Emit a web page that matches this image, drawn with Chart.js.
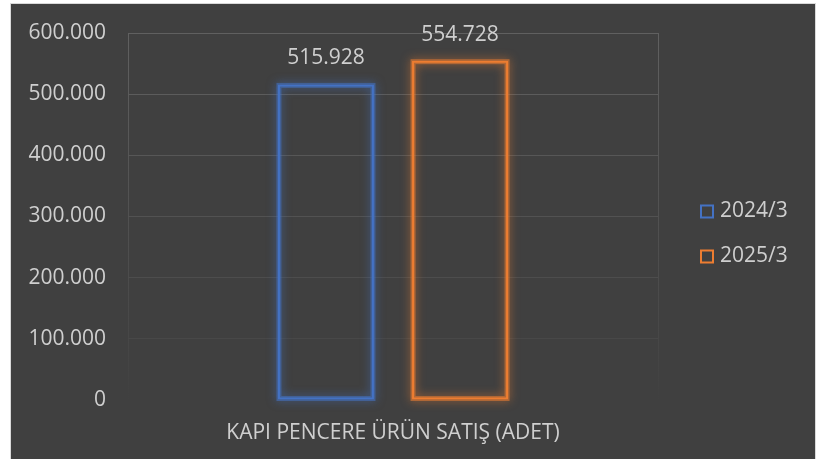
<!DOCTYPE html>
<html>
<head>
<meta charset="utf-8">
<script src="https://cdn.jsdelivr.net/npm/chart.js@4"></script>
<style>
  html, body { margin: 0; padding: 0; background: #ffffff; }
  #wrap {
    position: absolute; left: 10px; top: 3px;
    width: 804px; height: 456px;
    border: 1px solid #d9d9d9; border-bottom: none;
    background: #404040;
  }
  canvas { display: block; }
</style>
</head>
<body>
<div id="wrap"><canvas id="salesChart" width="804" height="456"></canvas></div>
<script>
// --- data ---
const CATEGORIES = ['KAPI PENCERE ÜRÜN SATIŞ (ADET)'];
const SERIES_NAMES = ['2024/3', '2025/3'];
const SALES_2024 = [515928];
const SALES_2025 = [554728];
const Y_TICKS = [0, 100000, 200000, 300000, 400000, 500000, 600000];

const COLORS = {
    blue: '#4472C4',
    orange: '#ED7D31',
    text: '#cfcfcf',
    bg: '#404040',
};
const FONT = '"Open Sans", "Noto Sans", sans-serif';

// turkish style thousands: 600.000
function fmt(v) {
    return String(Math.round(v)).replace(/\B(?=(\d{3})+(?!\d))/g, '.');
}

function hexA(hex, a) {
    const n = parseInt(hex.slice(1), 16);
    return `rgba(${(n >> 16) & 255}, ${(n >> 8) & 255}, ${n & 255}, ${a})`;
}

// soft glow round each bar outline
const glowPlugin = {
    id: 'glow',
    beforeDatasetsDraw(chart) {
        const ctx = chart.ctx;
        chart.data.datasets.forEach((ds, i) => {
            chart.getDatasetMeta(i).data.forEach(bar => {
                const p = bar.getProps(['x', 'y', 'base', 'width'], true);
                ctx.save();
                ctx.shadowColor = hexA(ds.borderColor, 1);
                ctx.shadowBlur = 10;
                ctx.strokeStyle = hexA(ds.borderColor, 0.55);
                ctx.lineWidth = 5;
                ctx.strokeRect(p.x - p.width / 2 + 1, p.y + 1, p.width - 2, p.base - p.y - 2);
                ctx.restore();
            });
        });
    }
};

// value labels above bars
const valueLabels = {
    id: 'valueLabels',
    afterDatasetsDraw(chart) {
        const ctx = chart.ctx;
        ctx.save();
        ctx.font = '21px ' + FONT;
        ctx.fillStyle = COLORS.text;
        ctx.textAlign = 'center';
        ctx.textBaseline = 'middle';
        chart.data.datasets.forEach((ds, i) => {
            chart.getDatasetMeta(i).data.forEach((bar, j) => {
                ctx.fillText(fmt(ds.data[j]), bar.x, bar.y - 26);
            });
        });
        ctx.restore();
    }
};

// legend on the right, outline boxes like the excel one
const sideLegend = {
    id: 'sideLegend',
    afterDraw(chart) {
        const ctx = chart.ctx;
        const midY = chart.height / 2 + 2;
        const x = chart.chartArea.right + 42;
        ctx.save();
        ctx.font = '21px ' + FONT;
        ctx.textBaseline = 'middle';
        chart.data.datasets.forEach((ds, i) => {
            const y = midY - 22.5 + i * 45;
            ctx.strokeStyle = ds.borderColor;
            ctx.lineWidth = 2;
            ctx.strokeRect(x + 1, y - 6, 12, 12);
            ctx.fillStyle = COLORS.text;
            ctx.fillText(ds.label, x + 20, y);
        });
        ctx.restore();
    }
};

const gridTop = 'rgba(96, 96, 96, 1)';

new Chart(document.getElementById('salesChart'), {
    type: 'bar',
    data: {
        labels: CATEGORIES,
        datasets: [{
            label: SERIES_NAMES[0],
            data: SALES_2024,
            backgroundColor: 'rgba(0,0,0,0)',
            borderColor: COLORS.blue,
            borderWidth: 2,
            borderSkipped: false,
        }, {
            label: SERIES_NAMES[1],
            data: SALES_2025,
            backgroundColor: 'rgba(0,0,0,0)',
            borderColor: COLORS.orange,
            borderWidth: 2,
            borderSkipped: false,
        }]
    },
    options: {
        responsive: false,
        animation: false,
        categoryPercentage: 0.506,
        barPercentage: 0.716,
        layout: { padding: { left: 16, right: 157, top: 29, bottom: 15 } },
        plugins: {
            legend: { display: false },
            tooltip: { enabled: false }
        },
        scales: {
            x: {
                afterFit: (scale) => { scale.height = 45; },
                grid: {
                    drawTicks: false,
                    color: (c) => {
                        const area = c.chart.chartArea;
                        if (!area) return gridTop;
                        const g = c.chart.ctx.createLinearGradient(0, area.top, 0, area.bottom);
                        g.addColorStop(0, 'rgba(96, 96, 96, 1)');
                        g.addColorStop(0.85, 'rgba(70, 70, 70, 1)');
                        g.addColorStop(1, 'rgba(64, 64, 64, 1)');
                        return g;
                    }
                },
                border: { display: false },
                ticks: {
                    color: COLORS.text,
                    font: { family: FONT, size: 21 },
                    padding: 20,
                }
            },
            y: {
                min: 0,
                max: 600000,
                afterFit: (scale) => {
                    scale.width = 101;
                    scale.paddingTop = 0;
                    scale.paddingBottom = 0;
                },
                afterBuildTicks: (scale) => { scale.ticks = Y_TICKS.map(v => ({ value: v })); },
                grid: {
                    drawTicks: false,
                    color: (c) => {
                        const t = (c.tick ? c.tick.value : 0) / 600000;
                        const v = Math.round(64 + 32 * Math.pow(t, 0.8));
                        return `rgb(${v}, ${v}, ${v})`;
                    }
                },
                border: { display: false },
                ticks: {
                    color: COLORS.text,
                    font: { family: FONT, size: 21 },
                    padding: 22,
                    callback: (v) => fmt(v),
                }
            }
        }
    },
    plugins: [glowPlugin, valueLabels, sideLegend]
});
</script>
</body>
</html>
